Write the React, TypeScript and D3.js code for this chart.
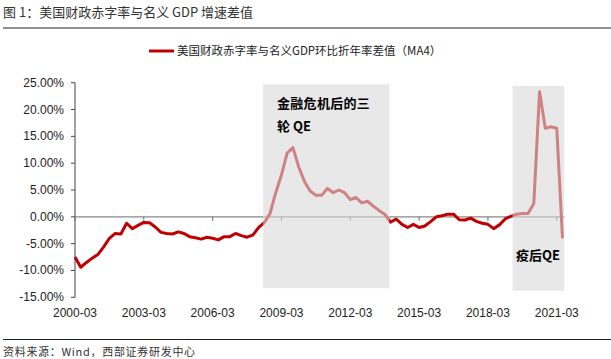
import React from "react";
import * as d3 from "d3";

const startYear = 2000;
const values: number[] = [
  -7.5, -9.4, -8.5, -7.7, -7.0, -5.6, -4.0, -3.1, -3.2, -1.2,
  -2.2, -1.6, -1.05, -1.1, -1.9, -2.9, -3.1, -3.2, -2.8, -3.1,
  -3.7, -3.9, -4.15, -3.8, -4.0, -4.3, -3.7, -3.7, -3.1, -3.5,
  -3.8, -3.4, -2.0, -1.1, 0.6, 4.5, 7.8, 11.9, 12.9, 9.3,
  6.6, 4.8, 4.0, 4.0, 5.3, 4.5, 5.0, 4.5, 3.2, 3.6,
  2.6, 2.9, 2.0, 1.2, 0.5, -1.0, -0.4, -1.4, -2.0, -1.4,
  -2.0, -1.7, -0.9, 0.0, 0.2, 0.5, 0.5, -0.55, -0.6, -0.25,
  -0.85, -1.2, -1.4, -2.2, -1.5, -0.4, 0.1, 0.5, 0.6, 0.6,
  2.5, 23.3, 16.5, 16.8, 16.5, -4.0,
];
const categories: string[] = values.map((_, i) => {
  const y = startYear + Math.floor(i / 4);
  const m = ["03", "06", "09", "12"][i % 4];
  return `${y}-${m}`;
});
const xTickLabels = ["2000-03", "2003-03", "2006-03", "2009-03", "2012-03", "2015-03", "2018-03", "2021-03"];
const yTicks = [-15, -10, -5, 0, 5, 10, 15, 20, 25];
// shaded periods in category index units, and their value extents
const shadeStarts = [32.8, 76.3];
const shadeEnds = [54.8, 85.3];
const shadeTops = [24.7, 24.4];
const shadeBottoms = [-13.3, -13.8];
const annotations = ["金融危机后的三", "轮 QE", "疫后QE"];

const title = "图 1：美国财政赤字率与名义 GDP 增速差值";
const legendLabel = "美国财政赤字率与名义GDP环比折年率差值（MA4）";
const source = "资料来源：Wind，西部证券研发中心";

export default function App() {
  const W = 611, H = 359;
  const x = d3.scaleLinear().domain([0, values.length - 1]).range([75, 562.5]);
  const y = d3.scaleLinear().domain([-15, 25]).range([297.3, 82.7]);
  const line = d3.line<number>().x((_, i) => x(i)).y((d) => y(d));
  const cjk = "'Noto Sans CJK SC', 'Noto Sans', sans-serif";
  const latin = "'Liberation Sans', Arial, sans-serif";
  const x0 = x(0), x1 = x(values.length - 1) + 2;
  return (
    <svg width={W} height={H} style={{ position: "absolute", left: 0, top: 0, background: "#fff" }}>
      <rect width={W} height={H} fill="#fff" />
      <text x={3} y={17} fontFamily={cjk} fontSize={13} fill="#333">{title}</text>
      <line x1={3} x2={611} y1={28} y2={28} stroke="#222" strokeWidth={1} />

      {/* legend */}
      <line x1={149} x2={174} y1={51} y2={51} stroke="#C00000" strokeWidth={3} />
      <text x={177} y={55} fontFamily={cjk} fontSize={11.5} fill="#222">{legendLabel}</text>

      {/* y axis */}
      <line x1={x0} x2={x0} y1={y(25)} y2={y(-15)} stroke="#444" strokeWidth={1} />
      {yTicks.map((t) => (
        <g key={t}>
          <line x1={x0 - 4} x2={x0} y1={y(t)} y2={y(t)} stroke="#444" />
          <text x={64} y={y(t) + 4} textAnchor="end" fontFamily={latin} fontSize={12} fill="#222">
            {t.toFixed(2) + "%"}
          </text>
        </g>
      ))}

      {/* zero axis */}
      <line x1={x0} x2={x1} y1={y(0)} y2={y(0)} stroke="#888" strokeWidth={1.2} />
      {xTickLabels.map((lab) => {
        const i = categories.indexOf(lab);
        return (
          <g key={lab}>
            <line x1={x(i)} x2={x(i)} y1={y(0)} y2={y(0) + 4} stroke="#666" />
            <text x={x(i)} y={317} textAnchor="middle" fontFamily={latin} fontSize={12} fill="#222">{lab}</text>
          </g>
        );
      })}

      <path d={line(values) || ""} fill="none" stroke="#C00000" strokeWidth={3} strokeLinejoin="round" />

      {shadeStarts.map((s, k) => (
        <rect key={k} x={x(s)} width={x(shadeEnds[k]) - x(s)} y={y(shadeTops[k])}
          height={y(shadeBottoms[k]) - y(shadeTops[k])} fill="#d8d8d8" opacity={0.6} />
      ))}

      <text x={277} y={108} fontFamily={cjk} fontWeight="bold" fontSize={13} fill="#000" letterSpacing={0.3}>{annotations[0]}</text>
      <text x={277} y={131} fontFamily={cjk} fontWeight="bold" fontSize={13} fill="#000">{annotations[1]}</text>
      <text x={516} y={260} fontFamily={cjk} fontWeight="bold" fontSize={13} fill="#000">{annotations[2]}</text>

      <line x1={3} x2={611} y1={339.5} y2={339.5} stroke="#222" strokeWidth={1} />
      <text x={3} y={356} fontFamily={cjk} fontSize={11} fill="#333" letterSpacing={0.7}>{source}</text>
    </svg>
  );
}
